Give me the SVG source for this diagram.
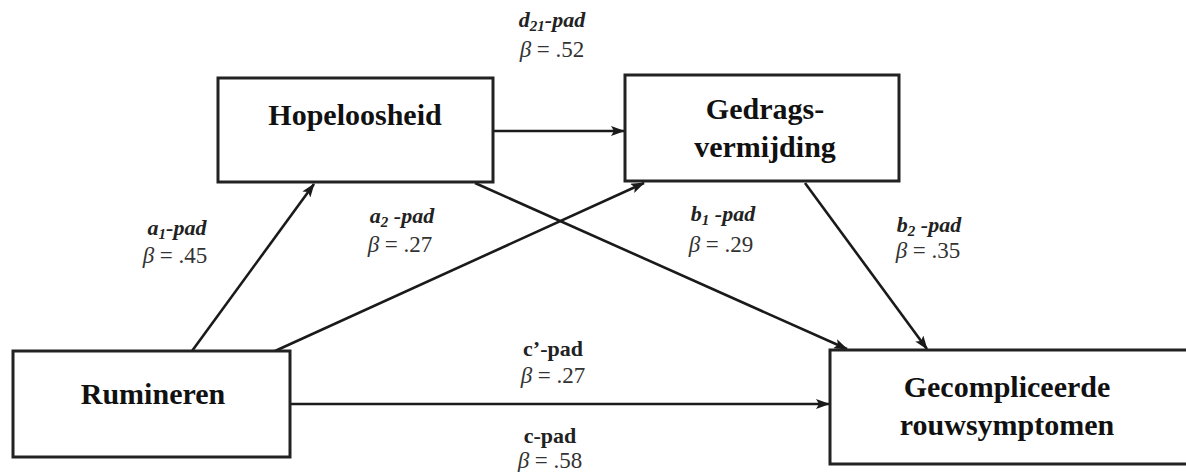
<svg xmlns="http://www.w3.org/2000/svg" width="1186" height="472" viewBox="0 0 1186 472">
  <defs>
    <marker id="arrow" markerWidth="14" markerHeight="10" refX="13" refY="5" orient="auto" markerUnits="userSpaceOnUse">
      <path d="M0,0 L14,5 L0,10 L3,5 Z" fill="#1a1a1a"/>
    </marker>
    <style>
      .box { fill: #ffffff; stroke: #222222; stroke-width: 3; }
      .node { font-family: "Liberation Serif", "Times New Roman", serif; font-weight: bold; font-size: 30px; fill: #111111; text-anchor: middle; }
      .lbl { font-family: "Liberation Serif", "Times New Roman", serif; font-weight: bold; font-style: italic; font-size: 22px; fill: #222222; text-anchor: middle; }
      .lblr { font-family: "Liberation Serif", "Times New Roman", serif; font-weight: bold; font-size: 22px; fill: #222222; text-anchor: middle; }
      .beta { font-family: "Liberation Serif", "Times New Roman", serif; font-size: 23px; fill: #333333; text-anchor: middle; }
      .conn { stroke: #1a1a1a; stroke-width: 2.6; fill: none; marker-end: url(#arrow); }
    </style>
  </defs>
  <rect width="1186" height="472" fill="#ffffff"/>

  <!-- connectors -->
  <g id="connectors">
    <line class="conn" x1="493" y1="131" x2="624" y2="131"/>
    <line class="conn" x1="192" y1="351" x2="314" y2="184"/>
    <line class="conn" x1="275" y1="351" x2="644" y2="183"/>
    <line class="conn" x1="475" y1="183" x2="847" y2="349"/>
    <line class="conn" x1="805" y1="183" x2="927" y2="349"/>
    <line class="conn" x1="290" y1="404" x2="829" y2="404"/>
  </g>

  <!-- path labels -->
  <g id="labels">
    <text class="lbl" x="552" y="27">d<tspan font-size="15" dy="4">21</tspan><tspan dy="-4">-pad</tspan></text>
    <text class="beta" x="552" y="57"><tspan font-style="italic">β</tspan> = .52</text>

    <text class="lbl" x="177" y="235">a<tspan font-size="15" dy="4">1</tspan><tspan dy="-4">-pad</tspan></text>
    <text class="beta" x="175" y="263"><tspan font-style="italic">β</tspan> = .45</text>

    <text class="lbl" x="402" y="223">a<tspan font-size="15" dy="4">2</tspan><tspan dy="-4"> -pad</tspan></text>
    <text class="beta" x="400" y="252"><tspan font-style="italic">β</tspan> = .27</text>

    <text class="lbl" x="723" y="221">b<tspan font-size="15" dy="4">1</tspan><tspan dy="-4"> -pad</tspan></text>
    <text class="beta" x="721" y="252"><tspan font-style="italic">β</tspan> = .29</text>

    <text class="lbl" x="929" y="232">b<tspan font-size="15" dy="4">2</tspan><tspan dy="-4"> -pad</tspan></text>
    <text class="beta" x="928" y="258"><tspan font-style="italic">β</tspan> = .35</text>

    <text class="lblr" x="553" y="356">c’-pad</text>
    <text class="beta" x="553" y="383"><tspan font-style="italic">β</tspan> = .27</text>

    <text class="lblr" x="550" y="443">c-pad</text>
    <text class="beta" x="550" y="468"><tspan font-style="italic">β</tspan> = .58</text>
  </g>

  <g id="hopeloosheid">
    <rect class="box" x="218" y="78" width="275" height="104"/>
    <text class="node" x="355" y="125">Hopeloosheid</text>
  </g>

  <g id="gedragsvermijding">
    <rect class="box" x="625" y="75" width="274" height="106"/>
    <text class="node" x="765" y="119">Gedrags-</text>
    <text class="node" x="765" y="157">vermijding</text>
  </g>

  <g id="rumineren">
    <rect class="box" x="13" y="351" width="277" height="106"/>
    <text class="node" x="153" y="404">Rumineren</text>
  </g>

  <g id="gecompliceerde">
    <rect class="box" x="830" y="350" width="360" height="114" stroke-width="3.5"/>
    <text class="node" x="1007" y="397">Gecompliceerde</text>
    <text class="node" x="1007" y="435">rouwsymptomen</text>
  </g>
</svg>
